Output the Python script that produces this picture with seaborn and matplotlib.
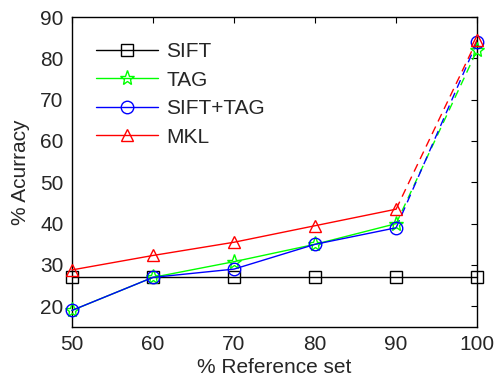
import pandas as pd
import seaborn as sns
from matplotlib import pyplot as plt

ref_set = [50, 60, 70, 80, 90, 100]
sift = [27, 27, 27, 27, 27, 27]
tag = [19, 27, 30.8, 35, 40, 82]
sift_tag = [19, 27, 29, 35, 39, 84]
mkl = [28.8, 32.3, 35.5, 39.5, 43.5, 84.5]

series = [
    ("SIFT", sift, "black", "s"),
    ("TAG", tag, "#00ff00", "*"),
    ("SIFT+TAG", sift_tag, "blue", "o"),
    ("MKL", mkl, "red", "^"),
]

sns.set_style("white")
plt.rcParams['font.family'] = ['Liberation Sans', 'DejaVu Sans']

fig, ax = plt.subplots(figsize=(4.96, 3.78), dpi=100)

for name, vals, color, marker in series:
    df = pd.DataFrame({"x": ref_set, "y": vals})
    ms = 11 if marker == "*" else 9
    if name == "SIFT":
        solid, dashed = df, None
    else:
        # last step (90 -> 100) is drawn dashed
        solid, dashed = df.iloc[:5], df.iloc[4:]
    sns.lineplot(data=solid, x="x", y="y", ax=ax, color=color, lw=1,
                 marker=marker, markersize=ms,
                 markerfacecolor="none", markeredgecolor=color,
                 markeredgewidth=1, label=name, clip_on=False, zorder=3)
    if dashed is not None:
        sns.lineplot(data=dashed, x="x", y="y", ax=ax, color=color, lw=1,
                     ls=(0, (6, 4)), legend=False)
        ax.plot(dashed["x"].iloc[-1:], dashed["y"].iloc[-1:], ls="none",
                marker=marker, markersize=ms,
                markerfacecolor="none", markeredgecolor=color,
                markeredgewidth=1, clip_on=False, zorder=3)

ax.set_xlim(50, 100)
ax.set_ylim(15, 90)
ax.set_xticks(ref_set)
ax.set_yticks([20, 30, 40, 50, 60, 70, 80, 90])
ax.tick_params(direction="in", top=True, right=True, labelsize=15, length=4,
               color="black", pad=6)
for s in ax.spines.values():
    s.set_color("black")
    s.set_linewidth(1)
ax.set_xlabel("% Reference set", fontsize=15, labelpad=3)
ax.set_ylabel("% Acurracy", fontsize=15, labelpad=7)
ax.legend(loc="upper left", frameon=False, fontsize=15, handlelength=3.0,
          handletextpad=0.4, bbox_to_anchor=(0.038, 0.945), labelspacing=0.45,
          borderaxespad=0)

plt.subplots_adjust(left=0.145, right=0.962, top=0.955, bottom=0.135)
plt.savefig("out.png")
